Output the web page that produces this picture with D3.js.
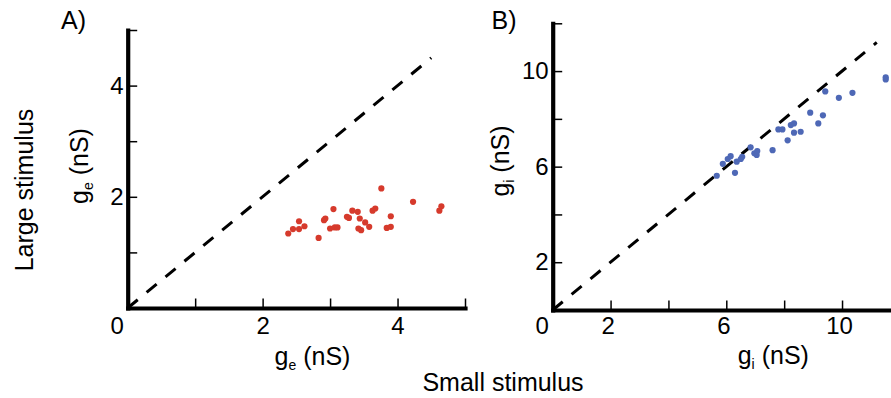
<!DOCTYPE html>
<html>
<head>
<meta charset="utf-8">
<script src="https://cdn.jsdelivr.net/npm/d3@7"></script>
<style>
  html, body { margin: 0; padding: 0; background: #fff; }
  svg { display: block; }
  text { font-family: "Liberation Sans", Arial, Helvetica, sans-serif; fill: #000; }
</style>
</head>
<body>
<svg id="chart" width="891" height="398"></svg>
<script>
// Excitatory conductance g_e (nS): small stimulus vs large stimulus
const geSmall = [2.38, 2.45, 2.54, 2.54, 2.62, 2.83, 2.91, 2.93, 3.05, 3.00,
                 3.07, 3.11, 3.25, 3.28, 3.33, 3.41, 3.44, 3.52, 3.58, 3.42,
                 3.46, 3.63, 3.67, 3.76, 3.84, 3.90, 3.90, 4.23, 4.62, 4.65];
const geLarge = [1.34, 1.42, 1.56, 1.42, 1.47, 1.26, 1.58, 1.61, 1.78, 1.43,
                 1.45, 1.45, 1.64, 1.62, 1.75, 1.73, 1.61, 1.54, 1.46, 1.43,
                 1.40, 1.75, 1.79, 2.15, 1.44, 1.46, 1.65, 1.91, 1.75, 1.83];

// Inhibitory conductance g_i (nS): small stimulus vs large stimulus
const giSmall = [5.67, 5.88, 6.05, 6.15, 6.30, 6.36, 6.50, 6.55, 6.84, 6.97,
                 7.05, 7.07, 7.60, 7.80, 7.94, 8.12, 8.23, 8.34, 8.34, 8.57,
                 8.90, 9.18, 9.34, 9.42, 9.89, 10.36, 11.51, 11.51];
const giLarge = [5.62, 6.12, 6.32, 6.44, 5.74, 6.21, 6.32, 6.41, 6.81, 6.56,
                 6.49, 6.65, 6.69, 7.56, 7.56, 7.10, 7.74, 7.81, 7.42, 7.46,
                 8.26, 7.81, 8.15, 9.15, 8.88, 9.09, 9.74, 9.65];

// Axis ticks and labelled values
const geTicks = [1, 2, 3, 4, 5];
const geLabels = [2, 4];
const giTicks = [2, 4, 6, 8, 10, 12];
const giXLabels = [2, 6, 10];
const giYLabels = [2, 6, 10];

// Extent of the unity (y = x) reference lines
const geUnityMax = 4.5;
const giUnityMax = 11.2;

const svg = d3.select("#chart");
const TICK_FS = 24, TITLE_FS = 25;

function panel(opts) {
  const x = d3.scaleLinear().domain(opts.xDomain).range(opts.xRange);
  const y = d3.scaleLinear().domain(opts.yDomain).range(opts.yRange);
  const g = svg.append("g");

  // unity line
  g.append("line")
    .attr("x1", x(0)).attr("y1", y(0))
    .attr("x2", x(opts.unityMax)).attr("y2", y(opts.unityMax))
    .attr("stroke", "#000").attr("stroke-width", 3)
    .attr("stroke-dasharray", "13,11.5");

  // points
  g.append("g").selectAll("circle")
    .data(opts.xs.map((v, i) => [v, opts.ys[i]]))
    .join("circle")
    .attr("cx", d => x(d[0])).attr("cy", d => y(d[1]))
    .attr("r", 3.1).attr("fill", opts.color);

  const xAxis = d3.axisBottom(x).tickValues(opts.xTicks)
    .tickSizeInner(-9.5).tickSizeOuter(0).tickPadding(opts.xPad)
    .tickFormat(d => opts.xLabels.includes(d) ? d : "");
  const yAxis = d3.axisLeft(y).tickValues(opts.yTicks)
    .tickSizeInner(-9.5).tickSizeOuter(0).tickPadding(opts.yPad)
    .tickFormat(d => opts.yLabels.includes(d) ? d : "");

  const gx = g.append("g").attr("transform", `translate(0,${y(0)})`).call(xAxis);
  const gy = g.append("g").attr("transform", `translate(${x(0)},0)`).call(yAxis);
  [gx, gy].forEach(a => {
    a.select(".domain").attr("stroke-width", 4.2).attr("stroke-linecap", "square");
    a.selectAll(".tick line").attr("stroke-width", 1.5);
    a.selectAll(".tick text").attr("font-size", TICK_FS)
      .attr("font-family", "Liberation Sans, Arial, sans-serif").attr("fill", "#000");
  });
  gx.selectAll(".tick text").attr("dx", opts.xLabelDx);

  // shared origin label
  g.append("text").attr("x", x(0) - 10.5).attr("y", y(0) + opts.xPad)
    .attr("dy", "0.71em").attr("text-anchor", "middle")
    .attr("font-size", TICK_FS).text("0");

  // axis titles with subscripts
  const xt = g.append("text").attr("x", opts.xTitle[0]).attr("y", opts.xTitle[1])
    .attr("text-anchor", "middle").attr("font-size", TITLE_FS);
  xt.append("tspan").text("g");
  xt.append("tspan").attr("font-size", 14).attr("dy", 5).text(opts.sub);
  xt.append("tspan").attr("dy", -5).text(" (nS)");

  const yt = g.append("text")
    .attr("transform", `translate(${opts.yTitle[0]},${opts.yTitle[1]}) rotate(-90)`)
    .attr("text-anchor", "middle").attr("font-size", TITLE_FS);
  yt.append("tspan").text("g");
  yt.append("tspan").attr("font-size", 14).attr("dy", 5).text(opts.sub);
  yt.append("tspan").attr("dy", -5).text(" (nS)");

  g.append("text").attr("x", opts.tag[0]).attr("y", opts.tag[1])
    .attr("font-size", TITLE_FS).text(opts.tagText);
}

panel({
  xs: geSmall, ys: geLarge, color: "#d63a2c", sub: "e",
  xDomain: [0, 5], xRange: [127.7, 465],
  yDomain: [0, 5], yRange: [308, 30],
  xTicks: geTicks, yTicks: geTicks, xLabels: geLabels, yLabels: geLabels,
  xPad: 9, yPad: 4, xLabelDx: 0,
  unityMax: geUnityMax,
  xTitle: [312.5, 365], yTitle: [87.5, 166],
  tag: [61, 28.5], tagText: "A)"
});

panel({
  xs: giSmall, ys: giLarge, color: "#4e68b6", sub: "i",
  xDomain: [0, 12], xRange: [552.7, 899.9],
  yDomain: [0, 12], yRange: [310, 23.3],
  xTicks: giTicks, yTicks: giTicks, xLabels: giXLabels, yLabels: giYLabels,
  xPad: 7, yPad: 4, xLabelDx: -3,
  unityMax: giUnityMax,
  xTitle: [773.3, 364], yTitle: [508.5, 161],
  tag: [491.5, 28.5], tagText: "B)"
});

// shared titles
svg.append("text").attr("transform", "translate(32.5,190) rotate(-90)")
  .attr("text-anchor", "middle").attr("font-size", TITLE_FS).text("Large stimulus");
svg.append("text").attr("x", 503).attr("y", 391)
  .attr("text-anchor", "middle").attr("font-size", TITLE_FS).text("Small stimulus");
</script>
</body>
</html>
